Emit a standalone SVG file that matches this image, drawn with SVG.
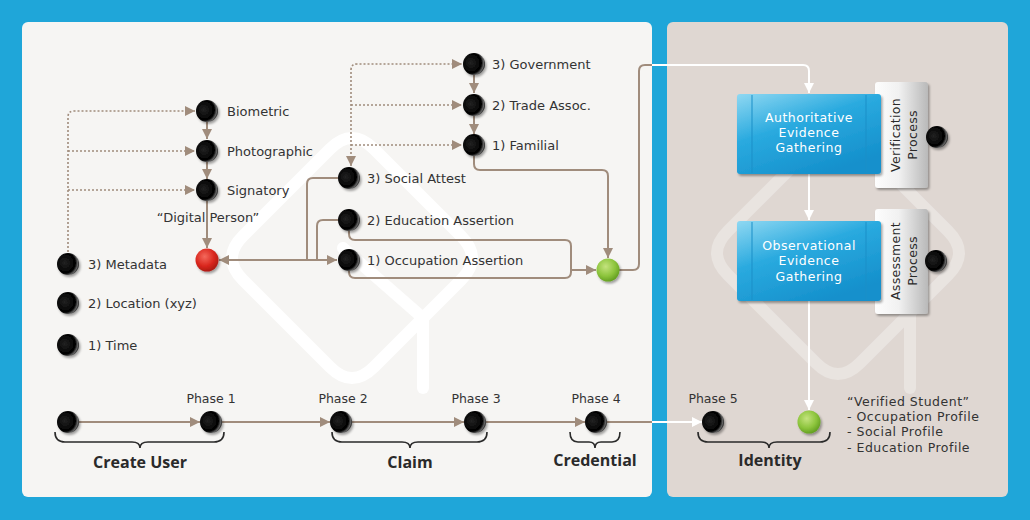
<svg xmlns="http://www.w3.org/2000/svg" width="1030" height="520" viewBox="0 0 1030 520">
<defs>
  <radialGradient id="gBlack" cx="0.36" cy="0.45" r="0.66">
    <stop offset="0" stop-color="#222"/>
    <stop offset="0.72" stop-color="#000"/>
    <stop offset="0.88" stop-color="#666"/>
    <stop offset="1" stop-color="#111"/>
  </radialGradient>
  <radialGradient id="gRed" cx="0.4" cy="0.35" r="0.7">
    <stop offset="0" stop-color="#F4695C"/>
    <stop offset="0.6" stop-color="#D9261D"/>
    <stop offset="1" stop-color="#A51A12"/>
  </radialGradient>
  <radialGradient id="gGreen" cx="0.4" cy="0.35" r="0.7">
    <stop offset="0" stop-color="#C4E37E"/>
    <stop offset="0.6" stop-color="#8CC43C"/>
    <stop offset="1" stop-color="#5E9A1E"/>
  </radialGradient>
  <linearGradient id="gBlue" x1="0" y1="0" x2="0.6" y2="1">
    <stop offset="0" stop-color="#8FD8F2"/>
    <stop offset="0.45" stop-color="#2AAADF"/>
    <stop offset="1" stop-color="#1590CC"/>
  </linearGradient>
  <linearGradient id="gTab" x1="0" y1="0" x2="1" y2="0">
    <stop offset="0" stop-color="#fdfdfd"/>
    <stop offset="0.45" stop-color="#f1f1f1"/>
    <stop offset="1" stop-color="#b9b9b9"/>
  </linearGradient>
  <filter id="sh" x="-50%" y="-50%" width="200%" height="200%">
    <feDropShadow dx="1.5" dy="2" stdDeviation="1.3" flood-color="#000" flood-opacity="0.35"/>
  </filter>
  <marker id="ab" markerUnits="userSpaceOnUse" markerWidth="10" markerHeight="10" refX="10" refY="5" orient="auto-start-reverse">
    <path d="M0,0 L10,5 L0,10 Z" fill="#A08C7C"/>
  </marker>
  <marker id="aw" markerUnits="userSpaceOnUse" markerWidth="10" markerHeight="10" refX="10" refY="5" orient="auto-start-reverse">
    <path d="M0,0 L10,5 L0,10 Z" fill="#FFFFFF"/>
  </marker>
</defs>
<style>
  text { font-family: "DejaVu Sans", "Open Sans", sans-serif; fill: #333; }
  .lbl { font-size: 13px; }
  .ml { font-size: 12.5px; letter-spacing: 0.5px; }
  .ph { font-size: 12.5px; text-anchor: middle; }
  .big { font-family: "Open Sans", "DejaVu Sans", sans-serif; font-size: 16px; font-weight: bold; text-anchor: middle; fill: #2a2a2a; }
  .bx { font-size: 12.5px; fill: #fff; text-anchor: middle; letter-spacing: 0.5px; }
  .tab { font-size: 12.5px; fill: #2a2a2a; text-anchor: middle; letter-spacing: 0.3px; }
  .c { fill: none; stroke: #A08C7C; stroke-width: 2; }
  .d { fill: none; stroke: #A08C7C; stroke-width: 1.6; stroke-dasharray: 2 2; }
  .w { fill: none; stroke: #FFFFFF; stroke-width: 2; }
  .brace { fill: none; stroke: #2a2a2a; stroke-width: 1.6; }
  .ball { fill: url(#gBlack); filter: url(#sh); }
</style>

<!-- background and panels -->
<rect x="0" y="0" width="1030" height="520" fill="#1FA6D9"/>
<rect x="22" y="22" width="630" height="475" rx="6" fill="#F6F5F3"/>
<rect x="667" y="22" width="341" height="475" rx="6" fill="#DFD7D2"/>

<!-- watermarks -->
<g id="watermark-left" fill="none" stroke="#FFFFFF" stroke-width="12" stroke-linecap="round">
  <path d="M330,149 Q352,127 374,149 L461,236 Q483,258 461,280 L374,367 Q352,389 330,367 L243,280 Q221,258 243,236 Z"/>
  <path d="M423,318 L343,248"/>
  <path d="M423,318 L423,388"/>
</g>
<g id="watermark-right" fill="none" stroke="#E9E4E0" stroke-width="12" stroke-linecap="round">
  <path d="M816,143 Q838,121 860,143 L948,231 Q970,253 948,275 L860,363 Q838,385 816,363 L728,275 Q706,253 728,231 Z"/>
  <path d="M910,313 L830,243"/>
  <path d="M910,313 L910,388"/>
</g>

<!-- connectors -->
<g id="connectors">
  <path class="d" d="M68,252 V117 Q68,111 74,111 H195" marker-end="url(#ab)"/>
  <path class="d" d="M68,151 H195" marker-end="url(#ab)"/>
  <path class="d" d="M68,190 H195" marker-end="url(#ab)"/>
  <path class="c" d="M207,122 V139" marker-end="url(#ab)"/>
  <path class="c" d="M207,162 V179" marker-end="url(#ab)"/>
  <path class="c" d="M207,201 V248" marker-end="url(#ab)"/>

  <path class="d" d="M351,166 V70 Q351,64 357,64 H462" marker-start="url(#ab)" marker-end="url(#ab)"/>
  <path class="d" d="M351,105 H462" marker-end="url(#ab)"/>
  <path class="d" d="M351,145 H462" marker-end="url(#ab)"/>
  <path class="c" d="M474,75 V93" marker-end="url(#ab)"/>
  <path class="c" d="M474,116 V134" marker-end="url(#ab)"/>
  <path class="c" d="M474,156 V164 Q474,170 480,170 H602 Q608,170 608,176 V258" marker-end="url(#ab)"/>

  <path class="c" d="M219,260 H337" marker-start="url(#ab)" marker-end="url(#ab)"/>
  <path class="c" d="M338,178 H313 Q307,178 307,184 V260"/>
  <path class="c" d="M338,220 H323 Q317,220 317,226 V260"/>
  <path class="c" d="M349,231 V234 Q349,240 355,240 H565 Q571,240 571,246 V272 Q571,278 565,278 H355 Q349,278 349,272 V271"/>
  <path class="c" d="M571,270 H596" marker-end="url(#ab)"/>

  <path class="c" d="M619,270 H633 Q639,270 639,264 V71 Q639,65 645,65 H652"/>
  <path class="w" d="M652,65 H803 Q809,65 809,71 V93" marker-end="url(#aw)"/>
  <path class="w" d="M809,174 V220" marker-end="url(#aw)"/>
  <path class="w" d="M809,301 V410" marker-end="url(#aw)"/>

  <path class="c" d="M79,422 H200" marker-end="url(#ab)"/>
  <path class="c" d="M222,422 H330" marker-end="url(#ab)"/>
  <path class="c" d="M352,422 H464" marker-end="url(#ab)"/>
  <path class="c" d="M486,422 H585" marker-end="url(#ab)"/>
  <path class="c" d="M607,422 H652"/>
  <path class="w" d="M652,422 H702" marker-end="url(#aw)"/>

  <path class="brace" d="M55,432 Q55,442 65,442 H132 Q140,442 140,448 Q140,442 148,442 H214 Q224,442 224,432"/>
  <path class="brace" d="M332,432 Q332,442 342,442 H402 Q410,442 410,448 Q410,442 418,442 H477 Q487,442 487,432"/>
  <path class="brace" d="M570,432 Q570,442 578,442 H589 Q595,442 595,448 Q595,442 601,442 H612 Q620,442 620,432"/>
  <path class="brace" d="M698,432 Q698,442 708,442 H761 Q769,442 769,448 Q769,442 777,442 H820 Q830,442 830,432"/>
</g>

<!-- left column nodes -->
<g id="biometric"><circle class="ball" cx="207" cy="111" r="11"/><text class="lbl" x="227" y="116">Biometric</text></g>
<g id="photographic"><circle class="ball" cx="207" cy="151" r="11"/><text class="lbl" x="227" y="156">Photographic</text></g>
<g id="signatory"><circle class="ball" cx="207" cy="190" r="11"/><text class="lbl" x="227" y="195">Signatory</text></g>
<g id="digital-person"><text class="lbl" x="208" y="222" text-anchor="middle">“Digital Person”</text><circle cx="207" cy="260" r="11.5" fill="url(#gRed)" filter="url(#sh)"/></g>
<g id="metadata"><circle class="ball" cx="68" cy="264" r="11"/><text class="lbl" x="88" y="269">3) Metadata</text></g>
<g id="location"><circle class="ball" cx="68" cy="303" r="11"/><text class="lbl" x="88" y="308">2) Location (xyz)</text></g>
<g id="time"><circle class="ball" cx="68" cy="345" r="11"/><text class="lbl" x="88" y="350">1) Time</text></g>

<!-- attestation nodes -->
<g id="government"><circle class="ball" cx="474" cy="64" r="11"/><text class="lbl" x="492" y="69">3) Government</text></g>
<g id="trade"><circle class="ball" cx="474" cy="105" r="11"/><text class="lbl" x="492" y="110">2) Trade Assoc.</text></g>
<g id="familial"><circle class="ball" cx="474" cy="145" r="11"/><text class="lbl" x="492" y="150">1) Familial</text></g>
<g id="social"><circle class="ball" cx="349" cy="178" r="11"/><text class="lbl" x="367" y="183">3) Social Attest</text></g>
<g id="education"><circle class="ball" cx="349" cy="220" r="11"/><text class="lbl" x="367" y="225">2) Education Assertion</text></g>
<g id="occupation"><circle class="ball" cx="349" cy="260" r="11"/><text class="lbl" x="367" y="265">1) Occupation Assertion</text></g>
<g id="claim-merge"><circle cx="608" cy="270" r="11.5" fill="url(#gGreen)" filter="url(#sh)"/></g>

<!-- right panel -->
<g id="verification">
  <rect x="875" y="82" width="53" height="106" rx="3" fill="url(#gTab)" filter="url(#sh)"/>
  <text class="tab" transform="translate(900,135) rotate(-90)">Verification</text>
  <text class="tab" transform="translate(917,135) rotate(-90)">Process</text>
  <circle class="ball" cx="937" cy="137" r="11"/>
</g>
<g id="authoritative">
  <rect x="737" y="94" width="144" height="80" rx="3" fill="url(#gBlue)" filter="url(#sh)"/>
  <line x1="752" y1="95" x2="752" y2="173" stroke="#1B8FC8" stroke-width="1"/>
  <line x1="866" y1="95" x2="866" y2="173" stroke="#1B8FC8" stroke-width="1"/>
  <text class="bx" x="809" y="122">Authoritative</text>
  <text class="bx" x="809" y="137">Evidence</text>
  <text class="bx" x="809" y="152">Gathering</text>
</g>
<g id="assessment">
  <rect x="875" y="209" width="53" height="105" rx="3" fill="url(#gTab)" filter="url(#sh)"/>
  <text class="tab" transform="translate(900,261) rotate(-90)">Assessment</text>
  <text class="tab" transform="translate(917,261) rotate(-90)">Process</text>
  <circle class="ball" cx="936" cy="261" r="11"/>
</g>
<g id="observational">
  <rect x="737" y="221" width="144" height="80" rx="3" fill="url(#gBlue)" filter="url(#sh)"/>
  <line x1="752" y1="222" x2="752" y2="300" stroke="#1B8FC8" stroke-width="1"/>
  <line x1="866" y1="222" x2="866" y2="300" stroke="#1B8FC8" stroke-width="1"/>
  <text class="bx" x="809" y="250">Observational</text>
  <text class="bx" x="809" y="265">Evidence</text>
  <text class="bx" x="809" y="281">Gathering</text>
</g>

<!-- phase row -->
<g id="start"><circle class="ball" cx="68" cy="422" r="11"/></g>
<g id="phase1"><text class="ph" x="211" y="403">Phase 1</text><circle class="ball" cx="211" cy="422" r="11"/></g>
<g id="phase2"><text class="ph" x="343" y="403">Phase 2</text><circle class="ball" cx="341" cy="422" r="11"/></g>
<g id="phase3"><text class="ph" x="476" y="403">Phase 3</text><circle class="ball" cx="475" cy="422" r="11"/></g>
<g id="phase4"><text class="ph" x="596" y="403">Phase 4</text><circle class="ball" cx="596" cy="422" r="11"/></g>
<g id="phase5"><text class="ph" x="713" y="403">Phase 5</text><circle class="ball" cx="713" cy="422" r="11"/></g>
<g id="verified-student">
  <circle cx="809" cy="422" r="11.5" fill="url(#gGreen)" filter="url(#sh)"/>
  <text class="ml" x="847" y="406">“Verified Student”</text>
  <text class="ml" x="847" y="421">- Occupation Profile</text>
  <text class="ml" x="847" y="436">- Social Profile</text>
  <text class="ml" x="847" y="452">- Education Profile</text>
</g>
<g id="group-labels">
  <text class="big" x="140" y="468">Create User</text>
  <text class="big" x="410" y="468">Claim</text>
  <text class="big" x="595" y="466">Credential</text>
  <text class="big" x="770" y="466">Identity</text>
</g>
</svg>
